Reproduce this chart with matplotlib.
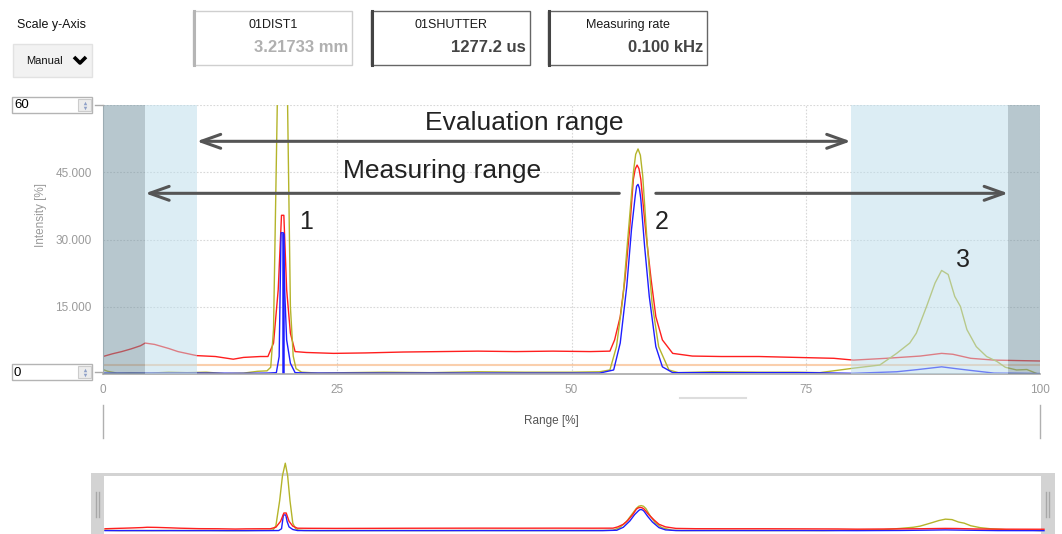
import matplotlib
matplotlib.use("Agg")
import matplotlib.pyplot as plt
from matplotlib.patches import Rectangle

plt.rcParams["font.family"] = ["Liberation Sans", "DejaVu Sans"]

# ---- data (x = range %, y = intensity %) ----
red_x = [0, 1, 2, 3, 4, 4.5, 5.5, 7, 8, 10, 12, 13.9, 15, 16.8, 17.6, 18.2, 18.7, 19.05, 19.3, 19.6,
         20.0, 20.5, 21.7, 24.6, 28, 32, 36, 40, 44, 48, 52, 54.1, 54.6, 55.2, 55.7, 56.2, 56.6, 56.8,
         57.0, 57.2, 57.4, 57.9, 58.5, 59.0, 59.7, 60.8, 62.9, 66, 70, 74, 78, 80.1, 83.6, 87.2, 89.5,
         90.7, 92.6, 95.1, 97.5, 100]
red_y = [3.9, 4.5, 5.0, 5.6, 6.3, 6.9, 6.6, 5.7, 5.0, 4.1, 3.9, 3.3, 3.7, 3.9, 3.9, 6.9, 18.8, 35.4,
         35.4, 18.8, 9.1, 5.0, 4.8, 4.6, 4.7, 4.9, 5.0, 5.1, 5.0, 5.1, 5.0, 5.1, 7.6, 12.8, 21.0, 32.2,
         43.4, 45.7, 46.6, 45.8, 43.4, 32.2, 21.0, 12.8, 7.6, 4.6, 4.0, 3.9, 3.9, 3.7, 3.5, 3.1, 3.5,
         4.0, 4.6, 4.4, 3.5, 3.1, 3.0, 2.9]

olive_x = [0, 0.5, 1.5, 3, 5, 7, 9, 11, 13, 15, 16.5, 17.5, 17.9, 18.2, 18.6, 18.9, 19.2, 19.45,
           19.7, 20.0, 20.3, 20.6, 21.2, 23, 26, 30, 35, 40, 45, 50, 53, 54.1, 54.8, 55.5, 56.0, 56.6,
           56.85, 57.1, 57.35, 57.6, 58.1, 58.6, 59.3, 60.4, 61.4, 65, 70, 74, 76.5, 80.1, 82.9, 84.7,
           86.1, 86.8, 87.9, 88.8, 89.5, 90.2, 90.9, 91.5, 92.2, 93.2, 94.3, 95.4, 96.3, 97.5, 98.6,
           99.6]
olive_y = [1.0, 0.6, 0.2, 0.3, 0.2, 0.4, 0.3, 0.4, 0.1, 0.2, 0.6, 0.7, 1.5, 10, 60, 110, 135, 110,
           60, 15, 4, 1.2, 0.4, 0.2, 0.3, 0.4, 0.3, 0.5, 0.4, 0.4, 0.5, 0.9, 6.1, 17.3, 30.0, 44.9,
           49.0, 50.2, 48.8, 44.2, 28.5, 15.8, 6.1, 0.9, 0.3, 0.5, 0.4, 0.4, 0.3, 1.3, 2.0, 4.6,
           6.9, 9.1, 15.1, 20.3, 23.1, 22.2, 17.3, 15.1, 9.9, 6.1, 3.9, 2.8, 1.5, 0.9, 1.0, 0.15]

blue_x = [0, 5, 10, 15, 17.5, 18.5, 18.8, 19.0, 19.25, 19.4, 19.6, 20.0, 20.5, 22, 30, 40, 50, 53,
          54.5, 55.2, 55.9, 56.4, 56.8, 56.95, 57.1, 57.25, 57.4, 57.8, 58.3, 59.0, 59.7, 60.8, 65,
          75, 80, 84.7, 87, 89.5, 91, 92.6, 95.1, 100]
blue_y = [0.2, 0.2, 0.2, 0.15, 0.2, 0.3, 3.9, 31.5, 31.5, 18, 7.6, 2.4, 0.3, 0.2, 0.2, 0.2, 0.2, 0.2,
          0.9, 6.9, 19.6, 32.2, 39.7, 41.9, 42.3, 41.4, 39.0, 28.5, 17.3, 6.1, 1.6, 0.3, 0.3, 0.3,
          0.15, 0.5, 1.0, 1.6, 1.2, 0.8, 0.2, 0.1]

peak1_pos, peak1_blue = 19.25, 31.5
threshold = 2.0

measuring_range = (4.5, 96.6)
evaluation_range = (10.0, 79.8)
peak_labels = ["1", "2", "3"]
peak_label_pos = [(21.7, 34.0), (59.6, 34.0), (91.8, 25.5)]

y_ticks = [0, 15, 30, 45, 60]
y_ticklabels = ["0.000", "15.000", "30.000", "45.000", "60.000"]
x_ticks = [0, 25, 50, 75, 100]

boxes = [("01DIST1", "3.21733 mm"), ("01SHUTTER", "1277.2 us"), ("Measuring rate", "0.100 kHz")]

RED, BLUE, OLIVE = "#ff1e1e", "#1e1eff", "#b4b42a"
W, H = 1062, 534

fig = plt.figure(figsize=(W / 100, H / 100), dpi=100)
fig.patch.set_facecolor("white")

# ---- main spectrum plot ----
ax = fig.add_axes([103 / W, 1 - 374 / H, 937 / W, 269 / H])
ax.set_xlim(0, 100)
ax.set_ylim(0, 60)
ax.plot(red_x, red_y, color=RED, lw=1.0, zorder=2)
ax.plot(olive_x, olive_y, color=OLIVE, lw=1.0, zorder=2.1)
ax.plot(blue_x, blue_y, color=BLUE, lw=1.0, zorder=2.2)
ax.vlines(peak1_pos, 0, peak1_blue, color=BLUE, lw=1.8, zorder=2.3)
ax.axhline(threshold, color="#f7a15c", alpha=0.5, lw=1.5, zorder=1.9)

# shaded zones are drawn over the curves
dark, light = "#71919f", "#bbddeb"
ax.axvspan(0, measuring_range[0], color=dark, alpha=0.5, lw=0, zorder=3)
ax.axvspan(measuring_range[1], 100, color=dark, alpha=0.5, lw=0, zorder=3)
ax.axvspan(measuring_range[0], evaluation_range[0], color=light, alpha=0.5, lw=0, zorder=3)
ax.axvspan(evaluation_range[1], measuring_range[1], color=light, alpha=0.5, lw=0, zorder=3)

for v in x_ticks[1:]:
    ax.axvline(v, color="#d8d8d8", lw=0.8, ls=(0, (1.5, 1.5)), zorder=1)
for v in y_ticks[1:]:
    ax.axhline(v, color="#d8d8d8", lw=0.8, ls=(0, (1.5, 1.5)), zorder=1)

for s in ["top", "right"]:
    ax.spines[s].set_visible(False)
ax.spines["left"].set_color("#c8c8c8")
ax.spines["bottom"].set_color("#a8a8a8")
ax.spines["bottom"].set_linewidth(1.2)
ax.set_yticks(y_ticks, y_ticklabels)
ax.set_xticks(x_ticks, [str(v) for v in x_ticks])
ax.tick_params(axis="y", length=0, pad=8, labelsize=8.5, labelcolor="#9a9a9a")
ax.tick_params(axis="x", length=0, pad=7, labelsize=8.5, labelcolor="#9a9a9a")

arrow_kw = dict(color="#555555", lw=2.2, shrinkA=0, shrinkB=0, mutation_scale=20)
ax.annotate("", xy=(evaluation_range[0], 51.9), xytext=(evaluation_range[1], 51.9),
            arrowprops=dict(arrowstyle="<->,head_length=0.7,head_width=0.25", **arrow_kw), zorder=4)
ax.annotate("", xy=(measuring_range[0], 40.3), xytext=(55.1, 40.3),
            arrowprops=dict(arrowstyle="->,head_length=0.7,head_width=0.25", **arrow_kw), zorder=4)
ax.annotate("", xy=(measuring_range[1], 40.3), xytext=(59.0, 40.3),
            arrowprops=dict(arrowstyle="->,head_length=0.7,head_width=0.25", **arrow_kw), zorder=4)
ax.text(45.0, 56.0, "Evaluation range", fontsize=19, color="#222222", ha="center", va="center", zorder=5)
ax.text(36.2, 45.2, "Measuring range", fontsize=19, color="#222222", ha="center", va="center", zorder=5)
for lab, (px, py) in zip(peak_labels, peak_label_pos):
    ax.text(px, py, lab, fontsize=18, color="#222222", ha="center", va="center", zorder=5)

# ---- overlay for the UI widgets (pixel coordinates) ----
ui = fig.add_axes([0, 0, 1, 1], zorder=10)
ui.set_xlim(0, W)
ui.set_ylim(H, 0)
ui.axis("off")

ui.text(17, 25, "Scale y-Axis", fontsize=9, color="#111111", va="center")
ui.add_patch(Rectangle((13, 44), 79, 33, facecolor="#f2f2f2", edgecolor="#e2e2e2", lw=1))
ui.text(44, 61, "Manual", fontsize=8, color="#111111", ha="center", va="center")
ui.plot([74, 80, 86], [57, 63, 57], color="black", lw=2.6, solid_capstyle="butt")

box_left = [193, 371, 548]
edge = ["#cfcfcf", "#666666", "#666666"]
lead = ["#b5b5b5", "#444444", "#444444"]
val_color = ["#b0b0b0", "#444444", "#444444"]
for (name, val), x0, ec, lc, vc in zip(boxes, box_left, edge, lead, val_color):
    ui.add_patch(Rectangle((x0, 11), 159, 54, facecolor="white", edgecolor=ec, lw=1))
    ui.plot([x0 + 1, x0 + 1], [11, 65], color=lc, lw=2.2)
    ui.text(x0 + 80, 25, name, fontsize=9, color="#1a1a1a", ha="center", va="center")
    ui.text(x0 + 155, 48, val, fontsize=12, fontweight="bold", color=vc, ha="right", va="center")

# y-range input boxes
for y0, txt in [(97, "60"), (364, "0")]:
    ui.add_patch(Rectangle((12, y0), 80, 16, facecolor="white", edgecolor="#b4b4b4", lw=1))
    ui.text(14, y0 + 8.5, txt, fontsize=9.5, color="black", va="center")
    ui.add_patch(Rectangle((78, y0 + 2), 13, 12, facecolor="#ececec", edgecolor="#cccccc", lw=0.8))
    ui.plot([84.5], [y0 + 5.5], marker="^", ms=2.5, color="#8fa0c8", mew=0)
    ui.plot([84.5], [y0 + 10.5], marker="v", ms=2.5, color="#8fa0c8", mew=0)
    ui.plot([95, 103], [y0 + 8, y0 + 8], color="#aaaaaa", lw=1)

ui.text(41, 215, "Intensity [%]", fontsize=8.5, color="#9a9a9a", rotation=90, ha="center", va="center")
ui.text(551, 421, "Range [%]", fontsize=8.5, color="#555555", ha="center", va="center")
ui.plot([680, 746], [398, 398], color="#dddddd", lw=1.5)
ui.plot([103, 103], [405, 438], color="#b0b0b0", lw=1)
ui.plot([1040, 1040], [405, 438], color="#b0b0b0", lw=1)

# navigator frame
ui.add_patch(Rectangle((91, 473), 964, 62, facecolor="#d3d3d3", edgecolor="none"))
ui.add_patch(Rectangle((104, 476), 937, 60, facecolor="white", edgecolor="none"))
for gx in [96, 99, 1046, 1049]:
    ui.plot([gx, gx], [492, 517], color="#a8a8a8", lw=1)

# ---- navigator (overview) ----
nav = fig.add_axes([105 / W, 1 - 533 / H, 939 / W, 57 / H], zorder=11)
nav.patch.set_visible(False)
nav.set_xlim(0, 100)
nav.set_ylim(-4.6, 109.4)
nav.axis("off")
nav.plot(olive_x, olive_y, color=OLIVE, lw=1.0, clip_on=False)
nav.plot(blue_x, blue_y, color=BLUE, lw=1.0, clip_on=False)
nav.plot(red_x, red_y, color=RED, lw=1.0, clip_on=False)

fig.savefig("out.png", dpi=100)
